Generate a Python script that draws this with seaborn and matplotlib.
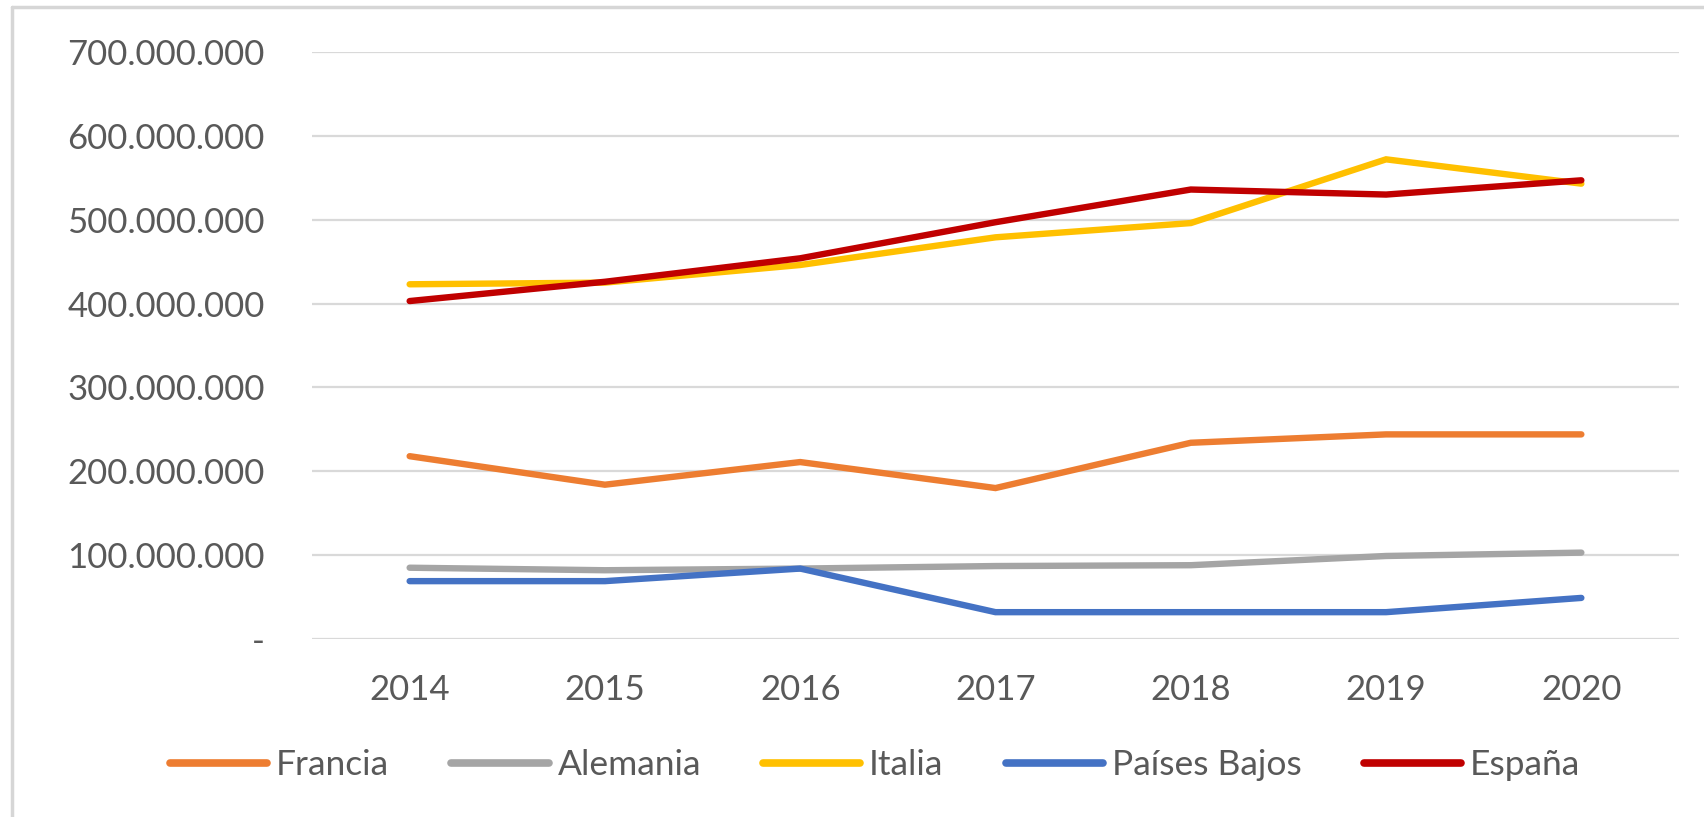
import matplotlib
matplotlib.use('Agg')
import matplotlib.pyplot as plt
from matplotlib.lines import Line2D
from matplotlib.ticker import FuncFormatter
import seaborn as sns
import pandas as pd

# Data
years = ['2014', '2015', '2016', '2017', '2018', '2019', '2020']
francia = [218e6, 184e6, 211e6, 180e6, 234e6, 244e6, 244e6]
alemania = [85e6, 82e6, 84e6, 87e6, 88e6, 99e6, 103e6]
italia = [423e6, 425e6, 446e6, 479e6, 496e6, 572e6, 543e6]
paises_bajos = [69e6, 69e6, 84e6, 32e6, 32e6, 32e6, 49e6]
espana = [403e6, 426e6, 454e6, 497e6, 536e6, 530e6, 547e6]

countries = ['Francia', 'Alemania', 'Italia', 'Países Bajos', 'España']
colors = ['#ED7D31', '#A5A5A5', '#FFC000', '#4472C4', '#C00000']

series = [francia, alemania, italia, paises_bajos, espana]
df = pd.DataFrame({
    'idx': list(range(len(years))) * len(countries),
    'valor': [v for s in series for v in s],
    'pais': [c for c in countries for _ in years],
})

sns.set_style('white')
plt.rcParams['font.family'] = ['Lato', 'DejaVu Sans']

fig = plt.figure(figsize=(17.04, 8.17), dpi=100)
ax = fig.add_axes([312 / 1704, 1 - 639 / 817, (1679 - 312) / 1704, (639 - 52) / 817])

sns.lineplot(data=df, x='idx', y='valor', hue='pais', hue_order=countries,
             palette=colors, linewidth=4.6, ax=ax, legend=False,
             solid_capstyle='round', solid_joinstyle='miter')

ax.set_xlim(-0.5, 6.5)
ax.set_ylim(0, 700e6)
ax.set_xticks(range(len(years)))
ax.set_xticklabels(years)
ax.set_yticks([i * 100e6 for i in range(8)])


def fmt(v, pos):
    if v == 0:
        return '-'
    return f'{int(round(v)):,}'.replace(',', '.')


ax.yaxis.set_major_formatter(FuncFormatter(fmt))
ax.tick_params(axis='both', length=0, labelsize=25, labelcolor='#595959')
ax.tick_params(axis='y', pad=34)
ax.tick_params(axis='x', pad=25)
ax.set_xlabel('')
ax.set_ylabel('')
ax.grid(axis='y', color='#D9D9D9', linewidth=1.6)
ax.set_axisbelow(True)
for s in ax.spines.values():
    s.set_visible(False)

handles = [Line2D([0], [0], color=c, linewidth=5.5, solid_capstyle='round') for c in colors]
leg = fig.legend(handles, countries, loc='center', bbox_to_anchor=(875 / 1704, 1 - 765 / 817),
                 ncol=5, frameon=False, fontsize=25.5, handlelength=2.75, handletextpad=0.25,
                 columnspacing=1.75)
for t in leg.get_texts():
    t.set_color('#595959')

# light border of the chart area
fig.add_artist(Line2D([12 / 1704, 12 / 1704], [0, 1 - 7 / 817], transform=fig.transFigure,
                      color='#D6D6D6', linewidth=2.5))
fig.add_artist(Line2D([12 / 1704, 1], [1 - 7 / 817, 1 - 7 / 817], transform=fig.transFigure,
                      color='#D6D6D6', linewidth=2.5))

fig.savefig('out.png', dpi=100)
